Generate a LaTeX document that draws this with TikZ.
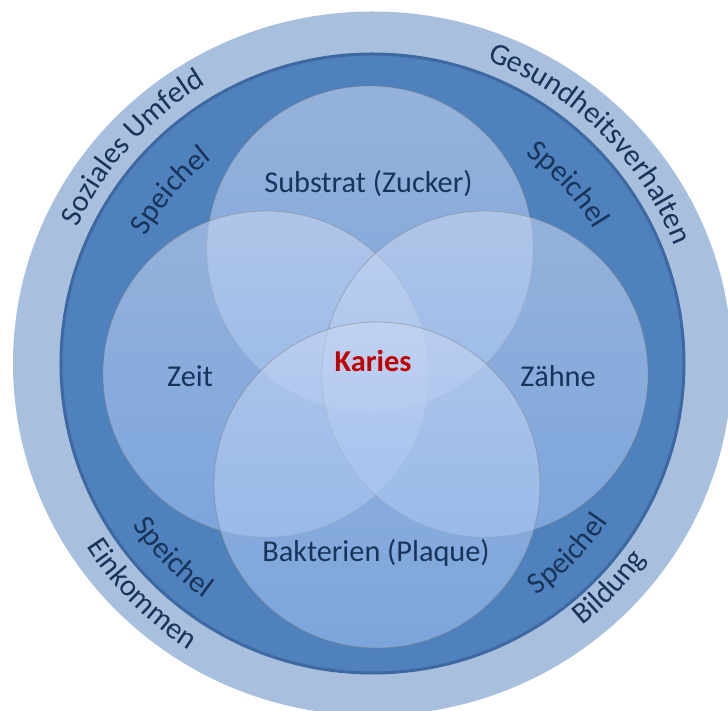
\documentclass[tikz,border=0pt]{standalone}
\usepackage{fontspec}
\setmainfont{Carlito}
\usetikzlibrary{decorations.text}
\definecolor{outerring}{RGB}{168,192,222}
\definecolor{innerring}{RGB}{79,129,189}
\definecolor{ringedge}{RGB}{62,104,160}
\definecolor{txt}{RGB}{24,52,90}
\definecolor{kariesred}{RGB}{192,0,0}
\definecolor{venntop}{RGB}{203,216,242}
\definecolor{vennbot}{RGB}{160,194,246}
\newcommand\ringfont{\fontsize{30.3}{35}\selectfont}
\begin{document}
\begin{tikzpicture}[x=1pt,y=1pt,
  venn/.style={top color=venntop, bottom color=vennbot, fill opacity=0.57, draw=gray, draw opacity=0.5, line width=0.8pt},
  lbl/.style={font=\ringfont, text=txt, inner sep=0pt},
  arctext/.style={decorate, decoration={text along path, text={|\ringfont|#1}, text color=txt, text align=center}}]
\useasboundingbox (-372.5,-347.5) rectangle (355.5,363.5);
\clip (-372.5,-347.5) rectangle (355.5,363.5);
% rings
\fill[outerring] (0,0) ellipse[x radius=359.5, y radius=352];
\filldraw[fill=innerring, draw=ringedge, line width=3pt] (0,0) ellipse[x radius=311.5, y radius=309.5];
% venn circles
\shadedraw[venn] (-2.5,114.5) circle[radius=163];
\shadedraw[venn] (-106.5,-10.5) circle[radius=163];
\shadedraw[venn] (112.5,-10.5) circle[radius=163];
\shadedraw[venn] (4.5,-121.5) circle[radius=163];
% labels
\node[lbl] (substrat) at (-4,179.5) {Substrat (Zucker)};
\node[lbl] (zeit) at (-182.5,-12.5) {Zeit};
\node[lbl] (zaehne) at (185.5,-12.5) {Zähne};
\node[lbl] (bakterien) at (3.5,-189.5) {Bakterien (Plaque)};
\node[lbl, text=kariesred, font=\ringfont\bfseries] (karies) at (0.5,2.5) {Karies};
% curved texts, top (clockwise, tops outward)
\path[arctext={Soziales Umfeld}] (178:325) arc[start angle=178, end angle=98, radius=325];
\path[arctext={Gesundheitsverhalten}] (85.3:324) arc[start angle=85.3, end angle=5.3, radius=324];
\path[arctext={Speichel}] (179.4:260) arc[start angle=179.4, end angle=99.4, radius=260];
\path[arctext={Speichel}] (82.5:259) arc[start angle=82.5, end angle=2.5, radius=259];
% curved texts, bottom (counter-clockwise, tops inward)
\path[arctext={Einkommen}] (185:340) arc[start angle=185, end angle=265, radius=340];
\path[arctext={Bildung}] (276.6:336) arc[start angle=276.6, end angle=356.6, radius=336];
\path[arctext={Speichel}] (184.2:289) arc[start angle=184.2, end angle=264.2, radius=289];
\path[arctext={Speichel}] (275.7:284) arc[start angle=275.7, end angle=355.7, radius=284];
\end{tikzpicture}
\end{document}
